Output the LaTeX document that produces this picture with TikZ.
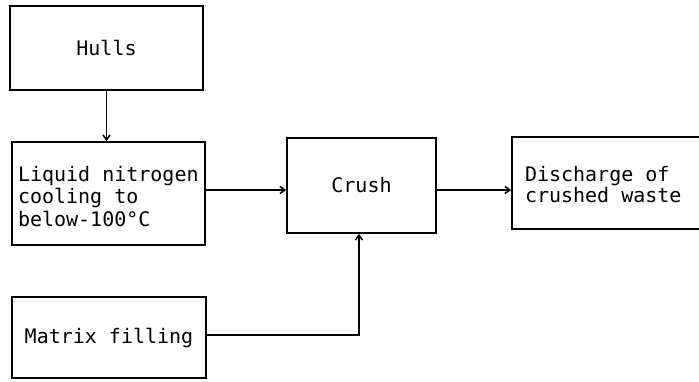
\documentclass[tikz,border=0pt]{standalone}
\usepackage{fontspec}
\newfontfamily\flowmono[WordSpace={1,0,0}]{DejaVu Sans Mono}
\usetikzlibrary{arrows.meta,calc}

% keep full-width spaces in left-aligned multi-line nodes
\newcommand\fullspaces{\spaceskip=\fontdimen2\font\relax\xspaceskip=\fontdimen2\font\relax}

\tikzset{
  box/.style={draw, line width=1.6pt, inner sep=0pt,
    font=\flowmono\fontsize{20}{22.5}\selectfont},
  flow/.style={line width=1.5pt, -{Straight Barb[length=5pt,width=7pt]}},
  link/.style={line width=1.5pt}
}

\begin{document}
\begin{tikzpicture}[x=1pt,y=-1pt]
  \useasboundingbox (0,0) rectangle (699,381);

  % process boxes
  \node[box, minimum width=193, minimum height=84] (hulls) at (106.5,48) {Hulls};
  \node[box, minimum width=193, minimum height=103, text width=181, align=left,
    inner xsep=6pt]
    (liquid) at (108.5,193.5)
    {\fullspaces\rule{0pt}{21pt}Liquid nitrogen\\cooling to\\below-100°C};
  \node[box, minimum width=149, minimum height=95] (crush) at (361.5,185.5) {Crush};
  \node[box, minimum width=193, minimum height=92, text width=167, align=left,
    inner xsep=13pt, font=\flowmono\fontsize{20}{20.5}\selectfont]
    (discharge) at (608.5,183)
    {\fullspaces\rule{0pt}{18pt}Discharge of\\crushed waste};
  \node[box, minimum width=194, minimum height=81] (matrix) at (109,337.5) {Matrix filling};

  % connectors
  \draw[flow] (hulls.south) -- (hulls.south |- liquid.north);
  \coordinate (lc) at ($(liquid.east)+(0,-3.5)$);
  \draw[flow] (lc) -- (crush.west |- lc);
  \coordinate (cd) at ($(crush.east)+(0,4.5)$);
  \draw[flow] (cd) -- (discharge.west |- cd);
  \coordinate (up) at ($(crush.south)+(-2.5,0)$);
  \draw[link] ($(matrix.east)+(0,-2.5)$) -| ($(up)+(0,30)$);
  \draw[flow] ($(up)+(0,30)$) -- (up);
\end{tikzpicture}
\end{document}
